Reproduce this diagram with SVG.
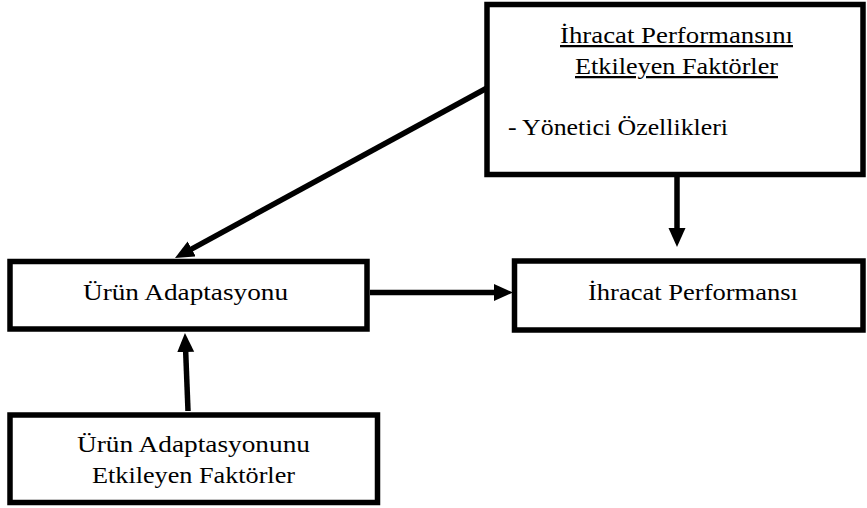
<svg xmlns="http://www.w3.org/2000/svg" width="867" height="508" viewBox="0 0 867 508">
<style>
.box{fill:#fff;stroke:#000;stroke-width:5.5}
.t{font-family:"Liberation Serif","Times New Roman",serif;font-size:22.5px;fill:#000}
.c{text-anchor:middle}
.u{text-decoration:underline}
.conn{stroke:#000;stroke-width:5.5;fill:none}
</style>
<defs>
<marker id="ah" markerUnits="userSpaceOnUse" markerWidth="20" markerHeight="18" refX="5" refY="8.5" orient="auto">
<path d="M0,0 L19,8.5 L0,17 z" fill="#000"/>
</marker>
</defs>
<rect width="867" height="508" fill="#fff"/>
<g id="connectors">
<line class="conn" x1="487" y1="88" x2="187.3" y2="251.3" marker-end="url(#ah)"/>
<line class="conn" x1="677" y1="176" x2="677" y2="233" marker-end="url(#ah)"/>
<line class="conn" x1="370" y1="292.5" x2="499" y2="292.5" marker-end="url(#ah)"/>
<line class="conn" x1="188" y1="411" x2="185.5" y2="347" marker-end="url(#ah)"/>
</g>
<g id="node-ihracat-faktorler">
<rect class="box" x="487" y="4.5" width="376" height="170"/>
<text class="t c u" x="676.5" y="43" textLength="233" lengthAdjust="spacingAndGlyphs">İhracat Performansını</text>
<text class="t c u" x="676.5" y="74" textLength="203" lengthAdjust="spacingAndGlyphs">Etkileyen Faktörler</text>
<text class="t" x="508" y="135" textLength="220" lengthAdjust="spacingAndGlyphs">- Yönetici Özellikleri</text>
</g>
<g id="node-urun-adaptasyonu">
<rect class="box" x="10" y="261.5" width="357" height="67.5"/>
<text class="t c" x="185.5" y="300" textLength="205" lengthAdjust="spacingAndGlyphs">Ürün Adaptasyonu</text>
</g>
<g id="node-ihracat-performansi">
<rect class="box" x="514.5" y="261" width="348.5" height="69"/>
<text class="t c" x="693" y="300" textLength="210" lengthAdjust="spacingAndGlyphs">İhracat Performansı</text>
</g>
<g id="node-urun-faktorler">
<rect class="box" x="10" y="415" width="367.5" height="87.5"/>
<text class="t c" x="193.5" y="452" textLength="233" lengthAdjust="spacingAndGlyphs">Ürün Adaptasyonunu</text>
<text class="t c" x="193.5" y="483" textLength="203" lengthAdjust="spacingAndGlyphs">Etkileyen Faktörler</text>
</g>
</svg>
